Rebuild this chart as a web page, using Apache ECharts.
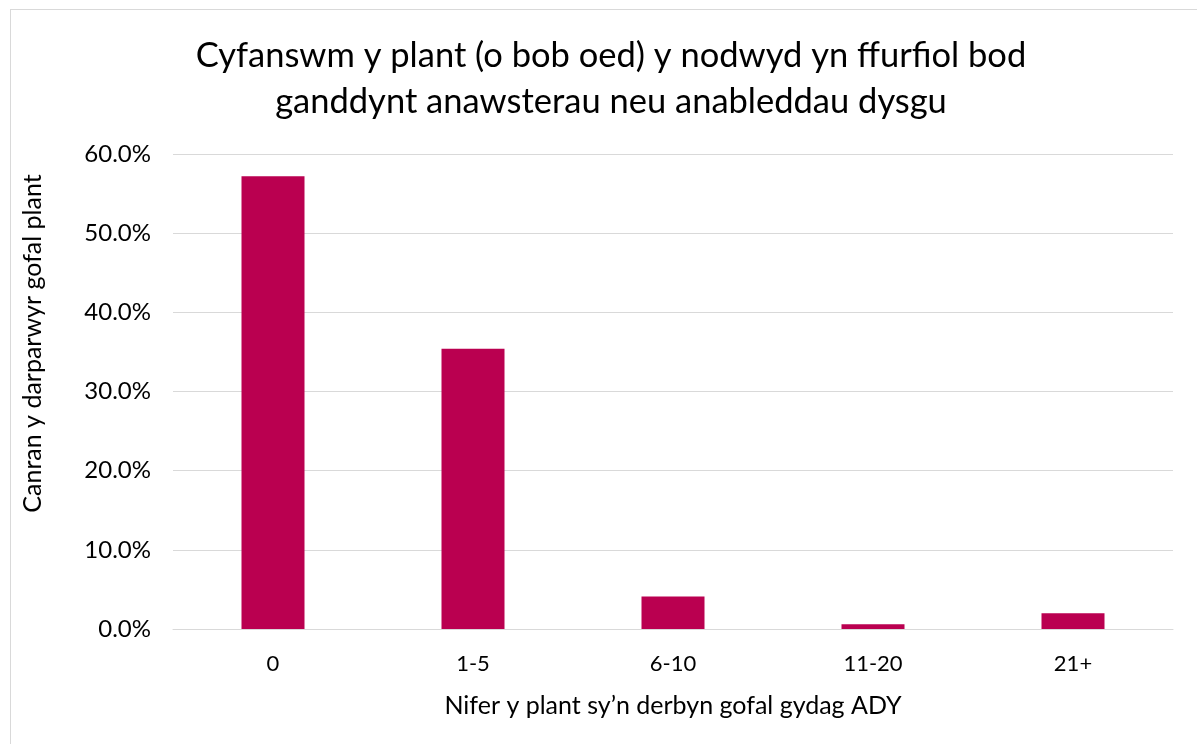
<!DOCTYPE html>
<html>
<head>
<meta charset="utf-8">
<script src="https://cdn.jsdelivr.net/npm/echarts@6/dist/echarts.min.js"></script>
<style>
  html, body { margin: 0; padding: 0; background: #fff; }
  #frame { position: absolute; left: 10px; top: 9px; width: 1200px; height: 760px; border: 1px solid #d9d9d9; box-sizing: border-box; }
  #chart { position: absolute; left: 0; top: 0; width: 1197px; height: 744px; }
</style>
</head>
<body>
<div id="frame"></div>
<div id="chart"></div>
<script>
const categories = ['0', '1-5', '6-10', '11-20', '21+'];
const values = [57.2, 35.4, 4.1, 0.6, 2.0];
const yTicks = [0, 10, 20, 30, 40, 50, 60];

const FONT = 'Lato';
const chart = echarts.init(document.getElementById('chart'));

chart.setOption({
  animation: false,
  title: {
    text: 'Cyfanswm y plant (o bob oed) y nodwyd yn ffurfiol bod\nganddynt anawsterau neu anableddau dysgu',
    left: 606,
    top: 28,
    textAlign: 'center',
    textStyle: { fontFamily: FONT, fontSize: 34.5, fontWeight: 'normal', color: '#000', lineHeight: 46 },
  },
  grid: { left: 173, right: 24, top: 154, bottom: 115 },
  xAxis: {
    type: 'category',
    data: categories,
    name: 'Nifer y plant sy\u2019n derbyn gofal gydag ADY',
    nameLocation: 'middle',
    nameGap: 64,
    nameTextStyle: { fontFamily: FONT, fontSize: 25, color: '#000' },
    axisLine: { lineStyle: { color: '#d9d9d9', width: 1 } },
    axisTick: { show: false },
    axisLabel: { fontFamily: FONT, fontSize: 22, color: '#000', margin: 24 },
  },
  yAxis: {
    type: 'value',
    min: yTicks[0],
    max: yTicks[yTicks.length - 1],
    interval: 10,
    name: 'Canran y darparwyr gofal plant',
    nameLocation: 'middle',
    nameGap: 128,
    nameTextStyle: { fontFamily: FONT, fontSize: 25, color: '#000', padding: [0, 0, 0, 96] },
    axisLine: { show: false },
    axisTick: { show: false },
    splitLine: { lineStyle: { color: '#d9d9d9', width: 1 } },
    axisLabel: {
      fontFamily: FONT, fontSize: 24, color: '#000', margin: 22,
      formatter: (v) => v.toFixed(1) + '%',
    },
  },
  series: [
    {
      type: 'bar',
      data: values,
      barWidth: '31.5%',
      itemStyle: { color: '#ba0050' },
    },
  ],
});
</script>
</body>
</html>
